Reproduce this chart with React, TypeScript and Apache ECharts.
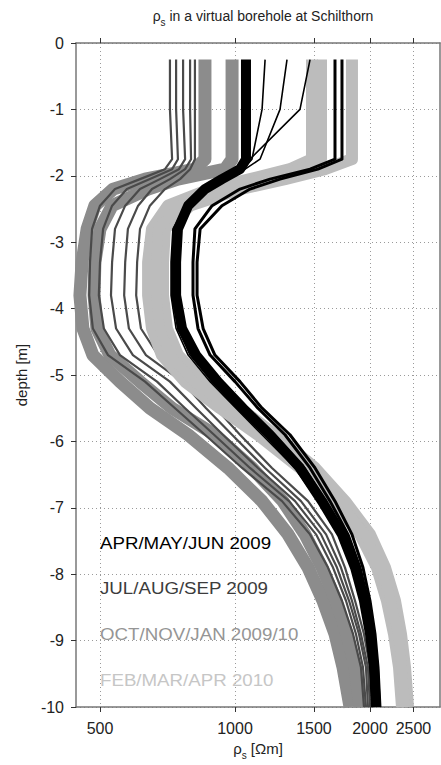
import React, { useEffect, useRef } from "react";
import * as echarts from "echarts";

// Depth nodes (m) shared by all resistivity profiles
const DEPTHS = [-0.25, -1.0, -1.75, -1.9, -2.05, -2.2, -2.45, -2.8, -3.3, -3.8, -4.3, -4.7, -5.1, -5.5, -5.9, -6.4, -6.9, -7.4, -7.9, -8.4, -8.9, -9.4, -10];

// APR/MAY/JUN 2009 (black)
const APR_JUN_A = [1058, 1058, 1058, 1026, 935, 857, 786, 746, 739, 739, 762, 819, 916, 1042, 1197, 1396, 1563, 1732, 1852, 1939, 2000, 2041, 2062];
const APR_JUN_B = [1671, 1671, 1671, 1470, 1197, 1026, 889, 814, 806, 806, 827, 880, 1000, 1125, 1293, 1470, 1629, 1786, 1900, 1979, 2031, 2073, 2095];
const APR_JUN_C = [1732, 1732, 1732, 1531, 1260, 1080, 935, 836, 823, 823, 849, 902, 1026, 1149, 1326, 1508, 1671, 1823, 1929, 2000, 2052, 2084, 2105];
const APR_JUN_D = [1306, 1260, 1137, 1053, 950, 857, 786, 735, 724, 724, 746, 794, 889, 1015, 1167, 1375, 1547, 1714, 1842, 1929, 1990, 2031, 2052];
const APR_JUN_E = [1167, 1149, 1091, 1042, 935, 849, 778, 727, 720, 720, 739, 786, 880, 1005, 1149, 1361, 1531, 1697, 1823, 1919, 1979, 2021, 2041];
const APR_JUN_F = [1470, 1396, 1080, 1026, 965, 871, 794, 754, 746, 746, 770, 827, 935, 1064, 1228, 1432, 1596, 1759, 1880, 1959, 2010, 2052, 2073];

// JUL/AUG/SEP 2009 (dark grey)
const JUL_SEP_A = [716, 716, 724, 698, 614, 540, 500, 480, 475, 473, 482, 521, 630, 735, 857, 1037, 1273, 1470, 1612, 1732, 1833, 1909, 1939];
const JUL_SEP_B = [739, 739, 746, 724, 646, 574, 532, 508, 500, 497, 510, 554, 670, 774, 898, 1080, 1320, 1516, 1654, 1768, 1861, 1929, 1959];
const JUL_SEP_C = [766, 766, 774, 750, 680, 614, 569, 540, 532, 529, 543, 592, 716, 819, 940, 1125, 1361, 1555, 1688, 1796, 1890, 1959, 1979];
const JUL_SEP_D = [794, 794, 798, 774, 716, 653, 608, 577, 569, 566, 580, 633, 762, 862, 985, 1167, 1403, 1596, 1723, 1823, 1909, 1979, 2000];
const JUL_SEP_E = [814, 814, 814, 794, 754, 698, 646, 614, 605, 602, 617, 674, 814, 907, 1026, 1209, 1455, 1645, 1759, 1852, 1939, 2000, 2021];

// OCT/NOV/JAN 2009/10 (mid grey)
const OCT_JAN_A = [857, 857, 857, 814, 630, 535, 487, 468, 456, 451, 458, 482, 554, 646, 786, 965, 1149, 1313, 1455, 1571, 1671, 1741, 1805];
const OCT_JAN_B = [985, 985, 985, 950, 746, 640, 532, 500, 487, 485, 492, 526, 614, 724, 902, 1091, 1279, 1432, 1563, 1680, 1777, 1852, 1900];

// FEB/MAR/APR 2010 (light grey)
const FEB_APR_A = [1485, 1485, 1485, 1326, 1080, 880, 709, 653, 640, 640, 653, 687, 774, 926, 1125, 1396, 1654, 1900, 2073, 2182, 2262, 2321, 2357];
const FEB_APR_B = [1823, 1823, 1823, 1587, 1293, 1026, 794, 698, 691, 691, 705, 746, 849, 1026, 1228, 1508, 1759, 2000, 2160, 2274, 2345, 2394, 2431];
const FEB_APR_C = [1563, 1563, 1563, 1396, 1149, 950, 754, 674, 667, 667, 680, 716, 810, 975, 1173, 1455, 1706, 1949, 2116, 2227, 2309, 2357, 2394];

const X_TICKS = [500, 1000, 1500, 2000, 2500];
const X_MIN = 442;
const X_MAX = 2865;

const LEGEND_LABELS = ["APR/MAY/JUN 2009", "JUL/AUG/SEP 2009", "OCT/NOV/JAN 2009/10", "FEB/MAR/APR 2010"];

const FONT = "'Liberation Sans', Arial, sans-serif";
const C_BLACK = "#000000";
const C_DARK = "#4a4a4a";
const C_MID = "#8c8c8c";
const C_LIGHT = "#bcbcbc";

function lineSeries(values: number[], color: string, width: number, z: number) {
  return {
    type: "line",
    xAxisIndex: 0,
    yAxisIndex: 0,
    data: DEPTHS.map((d, i) => [Math.log10(values[i]), d]),
    showSymbol: false,
    symbol: "none",
    smooth: false,
    silent: true,
    z,
    emphasis: { disabled: true },
    lineStyle: { color, width, join: "round", cap: "butt" },
  };
}

export default function App() {
  const ref = useRef<HTMLDivElement>(null);

  useEffect(() => {
    if (!ref.current) return;
    const chart = echarts.init(ref.current, undefined, { renderer: "svg" });
    const logTicks = X_TICKS.map((v) => Math.log10(v));
    const subRich = {
      r: { fontSize: 15, fontFamily: FONT, color: "#222", lineHeight: 18, verticalAlign: "top" },
      s: { fontSize: 10, fontFamily: FONT, color: "#222", lineHeight: 10, verticalAlign: "top", padding: [9, 0, 0, 0] },
    };
    const titleRich = {
      r: { fontSize: 14, fontFamily: FONT, color: "#222", lineHeight: 17, verticalAlign: "top" },
      s: { fontSize: 10, fontFamily: FONT, color: "#222", lineHeight: 10, verticalAlign: "top", padding: [8, 0, 0, 0] },
    };

    const series = [
      lineSeries(OCT_JAN_A, C_MID, 13, 2),
      lineSeries(OCT_JAN_B, C_MID, 13, 2),
      lineSeries(JUL_SEP_A, C_DARK, 2.2, 3),
      lineSeries(JUL_SEP_B, C_DARK, 2.2, 3),
      lineSeries(JUL_SEP_C, C_DARK, 2.2, 3),
      lineSeries(JUL_SEP_D, C_DARK, 2.2, 3),
      lineSeries(JUL_SEP_E, C_DARK, 2.2, 3),
      lineSeries(FEB_APR_A, C_LIGHT, 12, 4),
      lineSeries(FEB_APR_B, C_LIGHT, 12, 4),
      lineSeries(FEB_APR_C, C_LIGHT, 10, 4),
      lineSeries(APR_JUN_A, C_BLACK, 10, 5),
      lineSeries(APR_JUN_B, C_BLACK, 3, 5),
      lineSeries(APR_JUN_C, C_BLACK, 3, 5),
      lineSeries(APR_JUN_D, C_BLACK, 1.6, 5),
      lineSeries(APR_JUN_E, C_BLACK, 1.6, 5),
      lineSeries(APR_JUN_F, C_BLACK, 1.6, 5),
    ];

    const legendColors = [C_BLACK, "#3c3c3c", "#959595", "#c6c6c6"];
    const legendY = [543, 588, 634, 680];

    chart.setOption({
      animation: false,
      backgroundColor: "#ffffff",
      title: {
        text: "{r|ρ}{s|s}{r| in a virtual borehole at Schilthorn}",
        left: 258,
        top: 4,
        textAlign: "center",
        textStyle: { fontSize: 14, fontWeight: "normal", fontFamily: FONT, color: "#222", rich: titleRich },
      },
      grid: { left: 76, right: 1, top: 43, bottom: 56, containLabel: false },
      xAxis: [
        {
          type: "value",
          position: "bottom",
          min: Math.log10(X_MIN),
          max: Math.log10(X_MAX),
          name: "{r|ρ}{s|s}{r| [Ωm]}",
          nameLocation: "middle",
          nameGap: 34,
          nameTextStyle: { fontFamily: FONT, fontSize: 15, color: "#222", rich: subRich },
          axisLine: { show: true, onZero: false, lineStyle: { color: "#777", width: 1.5 } },
          axisTick: { show: true, inside: false, length: 5, customValues: logTicks, lineStyle: { color: "#333" } },
          axisLabel: {
            show: true,
            customValues: logTicks,
            margin: 13,
            fontSize: 16,
            fontFamily: FONT,
            color: "#222",
            formatter: (v: number) => String(Math.round(Math.pow(10, v))),
          },
          splitLine: { show: true, lineStyle: { color: "#9a9a9a", type: [1, 3], width: 1 } },
        },
        {
          type: "value",
          position: "top",
          min: Math.log10(X_MIN),
          max: Math.log10(X_MAX),
          axisLine: { show: true, onZero: false, lineStyle: { color: "#777", width: 1.5 } },
          axisTick: { show: true, inside: false, length: 5, customValues: logTicks, lineStyle: { color: "#333" } },
          axisLabel: { show: false },
          splitLine: { show: false },
        },
      ],
      yAxis: [
        {
          type: "value",
          position: "left",
          min: -10,
          max: 0,
          interval: 1,
          name: "depth [m]",
          nameLocation: "middle",
          nameGap: 47,
          nameTextStyle: { fontFamily: FONT, fontSize: 15, color: "#222" },
          axisLine: { show: true, onZero: false, lineStyle: { color: "#777", width: 1.5 } },
          axisTick: { show: true, inside: false, length: 5, lineStyle: { color: "#333" } },
          axisLabel: { margin: 12, fontSize: 16, fontFamily: FONT, color: "#222" },
          splitLine: { show: true, lineStyle: { color: "#9a9a9a", type: [1, 3], width: 1 } },
        },
        {
          type: "value",
          position: "right",
          min: -10,
          max: 0,
          interval: 1,
          axisLine: { show: true, onZero: false, lineStyle: { color: "#777", width: 1.5 } },
          axisTick: { show: false },
          axisLabel: { show: false },
          splitLine: { show: false },
        },
      ],
      graphic: LEGEND_LABELS.map((label, i) => ({
        type: "text",
        x: 100,
        y: legendY[i],
        scaleX: 1.1,
        z: 20,
        silent: true,
        style: {
          text: label,
          fill: legendColors[i],
          font: `17px ${FONT}`,
          align: "left",
          verticalAlign: "middle",
        },
      })),
      series,
    });
    return () => chart.dispose();
  }, []);

  return (
    <div
      ref={ref}
      style={{ position: "fixed", left: 0, top: 0, width: 441, height: 765, background: "#fff" }}
    />
  );
}
